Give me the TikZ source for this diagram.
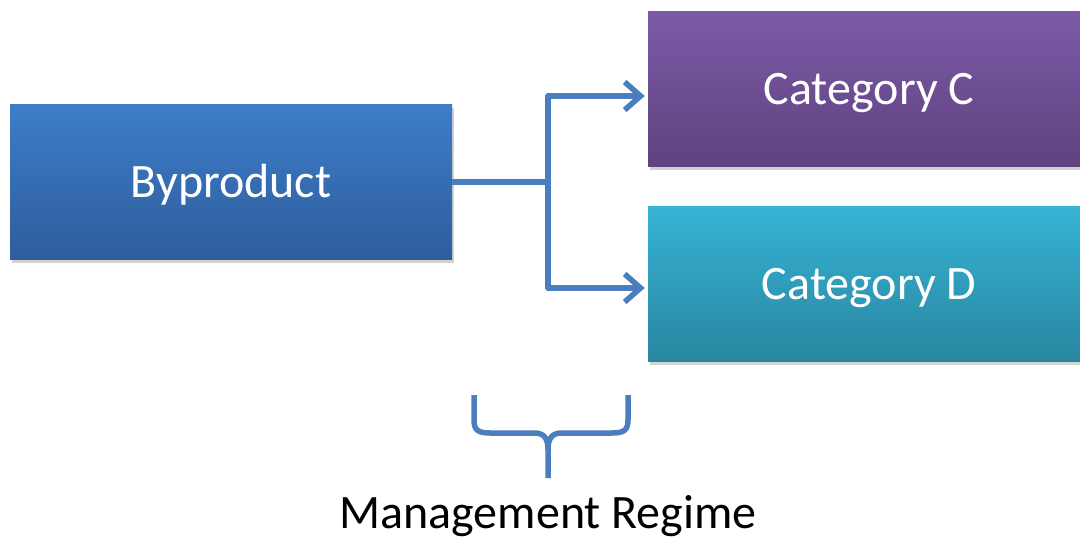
\documentclass[tikz,border=0pt]{standalone}
\usepackage{fontspec}
\setmainfont{Carlito}
\usetikzlibrary{arrows.meta,shadows,positioning}
\definecolor{linkblue}{HTML}{4A7EBF}
\tikzset{
	caption/.style={
		font=\fontsize{48}{52}\selectfont,
		text height=31pt,
		text depth=0pt,
		inner sep=0pt,
	},
	block/.style={
		caption,
		rectangle,
		minimum width=442pt,
		minimum height=155pt,
		text=white,
		text centered,
		drop shadow={shadow xshift=2pt, shadow yshift=-3pt, fill=black!35, opacity=0.5},
	},
	link/.style={
		draw=linkblue,
		line width=5.5pt,
		line join=round,
	},
}

\begin{document}
\begin{tikzpicture}[x=1pt,y=-1pt]
\useasboundingbox (0,0) rectangle (1080,536);
\clip (0,0) rectangle (1080,536);
\node	(byproduct)	[block, top color={rgb,255:red,61;green,125;blue,202}, bottom color={rgb,255:red,46;green,93;blue,155}]	at (231,182)	{Byproduct};
\node	(catC)		[block, top color={rgb,255:red,124;green,90;blue,167}, bottom color={rgb,255:red,95;green,66;blue,127}]	at (869,89)	{Category C};
\node	(catD)		[block, top color={rgb,255:red,54;green,179;blue,213}, bottom color={rgb,255:red,41;green,134;blue,160}]	at (869,284)	{Category D};
\node	(regime)	[caption]	at (548,513)	{Management Regime};

\coordinate (fork) at (548,182);
\path[link] (byproduct.east) -- (fork);
\path[link, -{Straight Barb[length=16pt,width=28pt,line width=5.5pt]}, shorten >=3pt] (fork) |- ([yshift=-7pt]catC.west);
\path[link, -{Straight Barb[length=16pt,width=28pt,line width=5.5pt]}, shorten >=3pt] (fork) |- ([yshift=-4pt]catD.west);

% brace over the label
\path[link] (474,395) -- (474,420)
	.. controls (474,430) and (478,433) .. (490,433) -- (534,433)
	.. controls (544,433) and (548,438) .. (548,450) -- (548,478);
\path[link] (628,395) -- (628,420)
	.. controls (628,430) and (624,433) .. (612,433) -- (562,433)
	.. controls (552,433) and (548,438) .. (548,450);
\end{tikzpicture}
\end{document}
